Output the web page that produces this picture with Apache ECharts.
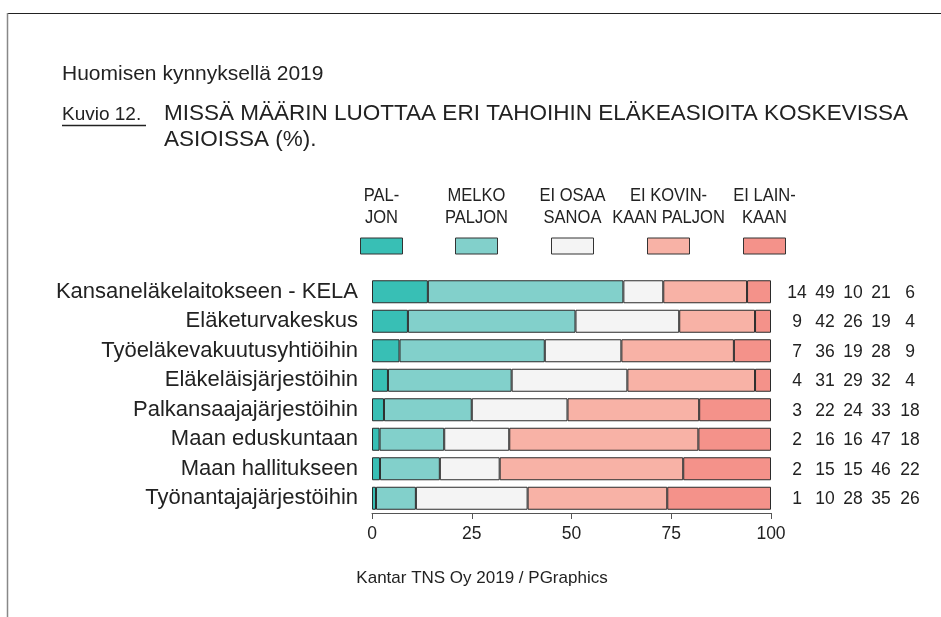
<!DOCTYPE html>
<html>
<head>
<meta charset="utf-8">
<script src="https://cdn.jsdelivr.net/npm/echarts@6/dist/echarts.min.js"></script>
<style>
  html, body { margin: 0; padding: 0; background: #fff; }
  #main { width: 941px; height: 617px; }
</style>
</head>
<body>
<div id="main"></div>
<script>
const FONT = "'Liberation Sans', Arial, sans-serif";

const categories = [
  'Kansaneläkelaitokseen - KELA',
  'Eläketurvakeskus',
  'Työeläkevakuutusyhtiöihin',
  'Eläkeläisjärjestöihin',
  'Palkansaajajärjestöihin',
  'Maan eduskuntaan',
  'Maan hallitukseen',
  'Työnantajajärjestöihin'
];

const seriesNames = ['PALJON', 'MELKO PALJON', 'EI OSAA SANOA', 'EI KOVINKAAN PALJON', 'EI LAINKAAN'];
const legendLabels = ['PAL-\nJON', 'MELKO\nPALJON', 'EI OSAA\nSANOA', 'EI KOVIN-\nKAAN PALJON', 'EI LAIN-\nKAAN'];
const colors = ['#38bfb5', '#82d0cb', '#f4f4f4', '#f8b2a6', '#f4928a'];

// plotted shares (bars fill to 100)
const paljon      = [14, 9, 6.9, 4, 3, 1.9, 2, 1];
const melkoPaljon = [49, 42, 36.4, 31, 22, 16.2, 15, 10];
const eiOsaa      = [10, 26, 19.2, 29, 24, 16.3, 15, 28];
const eiKovinkaan = [21, 19, 28.2, 32, 33, 47.4, 46, 35];
const eiLainkaan  = [6, 4, 9.3, 4, 18, 18.2, 22, 26];
const seriesData = [paljon, melkoPaljon, eiOsaa, eiKovinkaan, eiLainkaan];

// rounded numbers printed right of the bars
const shownValues = [
  [14, 49, 10, 21, 6],
  [9, 42, 26, 19, 4],
  [7, 36, 19, 28, 9],
  [4, 31, 29, 32, 4],
  [3, 22, 24, 33, 18],
  [2, 16, 16, 47, 18],
  [2, 15, 15, 46, 22],
  [1, 10, 28, 35, 26]
];

const xTicks = [0, 25, 50, 75, 100];

const chart = echarts.init(document.getElementById('main'), null, { renderer: 'canvas' });

const numOffsets = [26, 54, 82, 110, 139];

const barSeries = seriesNames.map((name, k) => ({
  name: name,
  type: 'bar',
  stack: 'total',
  barWidth: 23,
  data: seriesData[k],
  itemStyle: { color: colors[k], borderColor: '#2b2b2b', borderWidth: 1 }
}));

const numberSeries = {
  type: 'custom',
  name: 'numbers',
  silent: true,
  clip: false,
  encode: { x: 0, y: 1 },
  data: categories.map((c, i) => [100, i]),
  renderItem: function (params, api) {
    const p = api.coord([api.value(0), api.value(1)]);
    const row = shownValues[params.dataIndex];
    return {
      type: 'group',
      children: row.map((v, k) => ({
        type: 'text',
        x: p[0] + numOffsets[k],
        y: p[1] + 1,
        style: {
          text: String(v),
          fontSize: 17.5,
          fontFamily: FONT,
          fill: '#222',
          align: 'center',
          verticalAlign: 'middle'
        }
      }))
    };
  }
};

// legend drawn as boxes with two-line labels above
const legendX = [381.5, 476.5, 572.5, 668.5, 764.5];
const legendGraphics = [];
legendLabels.forEach((lab, k) => {
  legendGraphics.push({
    type: 'rect',
    shape: { x: legendX[k] - 21, y: 238, width: 42, height: 16 },
    style: { fill: colors[k], stroke: '#333', lineWidth: 1 }
  });
  legendGraphics.push({
    type: 'text',
    x: legendX[k],
    y: 207,
    scaleX: 0.87,
    style: {
      text: lab,
      fontSize: 19,
      lineHeight: 21.5,
      fontFamily: FONT,
      fill: '#222',
      textAlign: 'center',
      textVerticalAlign: 'middle',
      align: 'center',
      verticalAlign: 'middle'
    }
  });
});

const option = {
  animation: false,
  backgroundColor: '#fff',
  textStyle: { fontFamily: FONT },
  grid: { left: 372, right: 170, top: 277, bottom: 104, containLabel: false },
  xAxis: {
    type: 'value',
    min: 0,
    max: 100,
    interval: 25,
    axisLine: { show: true, lineStyle: { color: '#555', width: 1 } },
    axisTick: { show: true, length: 6, lineStyle: { color: '#555' } },
    splitLine: { show: false },
    axisLabel: {
      margin: 12,
      fontSize: 17.5,
      color: '#222',
      fontFamily: FONT,
      formatter: v => (xTicks.indexOf(v) >= 0 ? String(v) : '')
    }
  },
  yAxis: {
    type: 'category',
    inverse: true,
    data: categories,
    axisLine: { show: false },
    axisTick: { show: false },
    axisLabel: { margin: 14, fontSize: 22, color: '#222', fontFamily: FONT }
  },
  series: barSeries.concat([numberSeries]),
  graphic: [
    { type: 'line', shape: { x1: 7, y1: 13.5, x2: 941, y2: 13.5 }, style: { stroke: '#222', lineWidth: 1 } },
    { type: 'line', shape: { x1: 7.5, y1: 13, x2: 7.5, y2: 617 }, style: { stroke: '#888', lineWidth: 1.5 } },
    {
      type: 'text', x: 62, y: 74,
      style: { text: 'Huomisen kynnyksellä 2019', fontSize: 21, fontFamily: FONT, fill: '#222',
        textVerticalAlign: 'middle', verticalAlign: 'middle' }
    },
    {
      type: 'text', x: 62, y: 114.5,
      style: { text: 'Kuvio 12.', fontSize: 19, fontFamily: FONT, fill: '#222',
        textVerticalAlign: 'middle', verticalAlign: 'middle' }
    },
    { type: 'line', shape: { x1: 62, y1: 125.5, x2: 146, y2: 125.5 }, style: { stroke: '#222', lineWidth: 1.5 } },
    {
      type: 'text', x: 164, y: 127,
      style: { text: 'MISSÄ MÄÄRIN LUOTTAA ERI TAHOIHIN ELÄKEASIOITA KOSKEVISSA\nASIOISSA (%).',
        fontSize: 22.5, lineHeight: 26.5, fontFamily: FONT, fill: '#222',
        textVerticalAlign: 'middle', verticalAlign: 'middle' }
    },
    {
      type: 'text', x: 482, y: 578,
      style: { text: 'Kantar TNS Oy 2019 / PGraphics', fontSize: 17, fontFamily: FONT, fill: '#222',
        textAlign: 'center', align: 'center', textVerticalAlign: 'middle', verticalAlign: 'middle' }
    }
  ].concat(legendGraphics)
};

chart.setOption(option);
</script>
</body>
</html>
